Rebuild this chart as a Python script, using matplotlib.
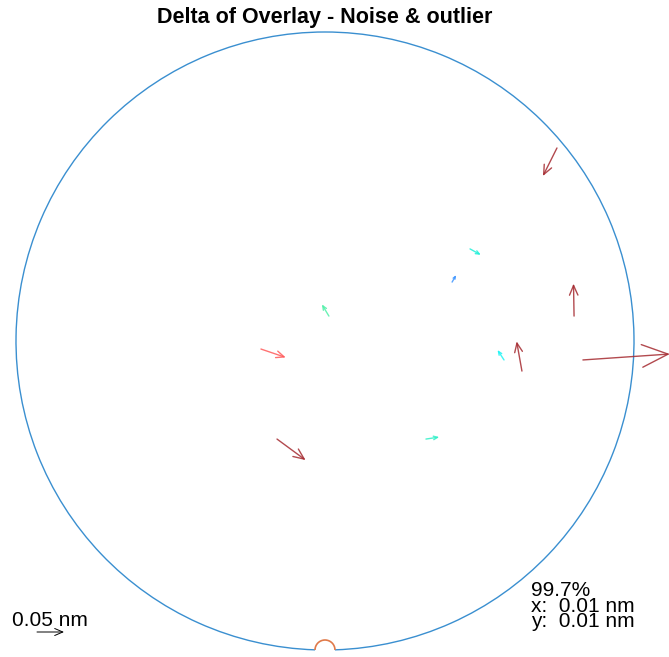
import numpy as np
import matplotlib.pyplot as plt
from matplotlib.patches import Arc

plt.rcParams['font.family'] = ['Liberation Sans', 'DejaVu Sans']

# Позиции стрелок на пластине (мм) и их смещения (нм)
x_mm = [112.6, 70.4, 61.7, 120.9, 86.9, 95.6, 125.2, 1.9, -31.1, -23.3, 49.0]
y_mm = [93.7, 44.7, 28.6, 12.1, -9.2, -14.6, -9.2, 12.1, -3.9, -47.6, -47.6]
dx_nm = [-0.026, 0.020, 0.0074, -0.001, -0.012, -0.0098, 0.161, -0.013, 0.046, 0.053, 0.0246]
dy_nm = [-0.052, -0.011, 0.013, 0.060, 0.0185, 0.055, 0.011, 0.0217, -0.0156, -0.039, 0.0037]

title = 'Delta of Overlay - Noise & outlier'
ref_len_nm = 0.05
stats_lines = ['99.7%', 'x:  0.01 nm', 'y:  0.01 nm']

# Цвета стрелок (по величине смещения, как на исходнике)
DARK = '#a52a30'
arrow_colors = [DARK, '#20f0d8', '#3d95ff', DARK, '#20f4f4', DARK, DARK,
                '#50f0a8', '#ff5a5a', DARK, '#30f0c8']

WAFER_R = 150.0
NOTCH_R = 4.85
PX_PER_MM = 2.06
PX_PER_NM = 540.0
MM_PER_NM = PX_PER_NM / PX_PER_MM

W, H = 669, 657
CX, CY = 325, 341

fig = plt.figure(figsize=(W / 100, H / 100), dpi=100)
ax = fig.add_axes([0, 0, 1, 1])
ax.set_xlim(-CX / PX_PER_MM, (W - CX) / PX_PER_MM)
ax.set_ylim(-(H - CY) / PX_PER_MM, CY / PX_PER_MM)
ax.axis('off')

# Контур пластины с вырезом (notch)
g = np.degrees(np.arcsin(NOTCH_R / WAFER_R))
ax.add_patch(Arc((0, 0), 2 * WAFER_R, 2 * WAFER_R, theta1=-90 + g, theta2=270 - g,
                 color='#3a8fd0', lw=1.0))
ax.add_patch(Arc((0, -WAFER_R), 2 * NOTCH_R, 2 * NOTCH_R, theta1=0, theta2=180,
                 color='#e07a4a', lw=1.2))


def draw_arrow(x, y, u, v, color, alpha=0.85, lw=1.0):
    x2 = x + u * MM_PER_NM
    y2 = y + v * MM_PER_NM
    length_px = np.hypot(u, v) * PX_PER_NM
    hl = 0.30 * length_px * 0.72
    hw = 0.13 * length_px * 0.72
    ax.annotate('', xy=(x2, y2), xytext=(x, y),
                arrowprops=dict(arrowstyle=f'->,head_length={hl:.2f},head_width={hw:.2f}',
                                mutation_scale=1, color=color, alpha=alpha, lw=lw,
                                shrinkA=0, shrinkB=0),
                annotation_clip=False)


for x, y, u, v, c in zip(x_mm, y_mm, dx_nm, dy_nm, arrow_colors):
    draw_arrow(x, y, u, v, c)

# Масштабная стрелка
sx, sy = (37 - CX) / PX_PER_MM, (CY - 632) / PX_PER_MM
draw_arrow(sx, sy, ref_len_nm, 0, 'black', alpha=1.0, lw=0.7)
ax.text(12 / W, 1 - 621 / H, f'{ref_len_nm:g} nm', transform=ax.transAxes,
        fontsize=15, ha='left', va='center')

ax.text(531 / W, 1 - 581 / H, '\n'.join(stats_lines), transform=ax.transAxes,
        fontsize=15, ha='left', va='top', linespacing=0.78)

ax.text(325 / W, 1 - 18 / H, title, transform=ax.transAxes, fontsize=15.5,
        fontweight='bold', ha='center', va='center')

fig.savefig('out.png', dpi=100)
